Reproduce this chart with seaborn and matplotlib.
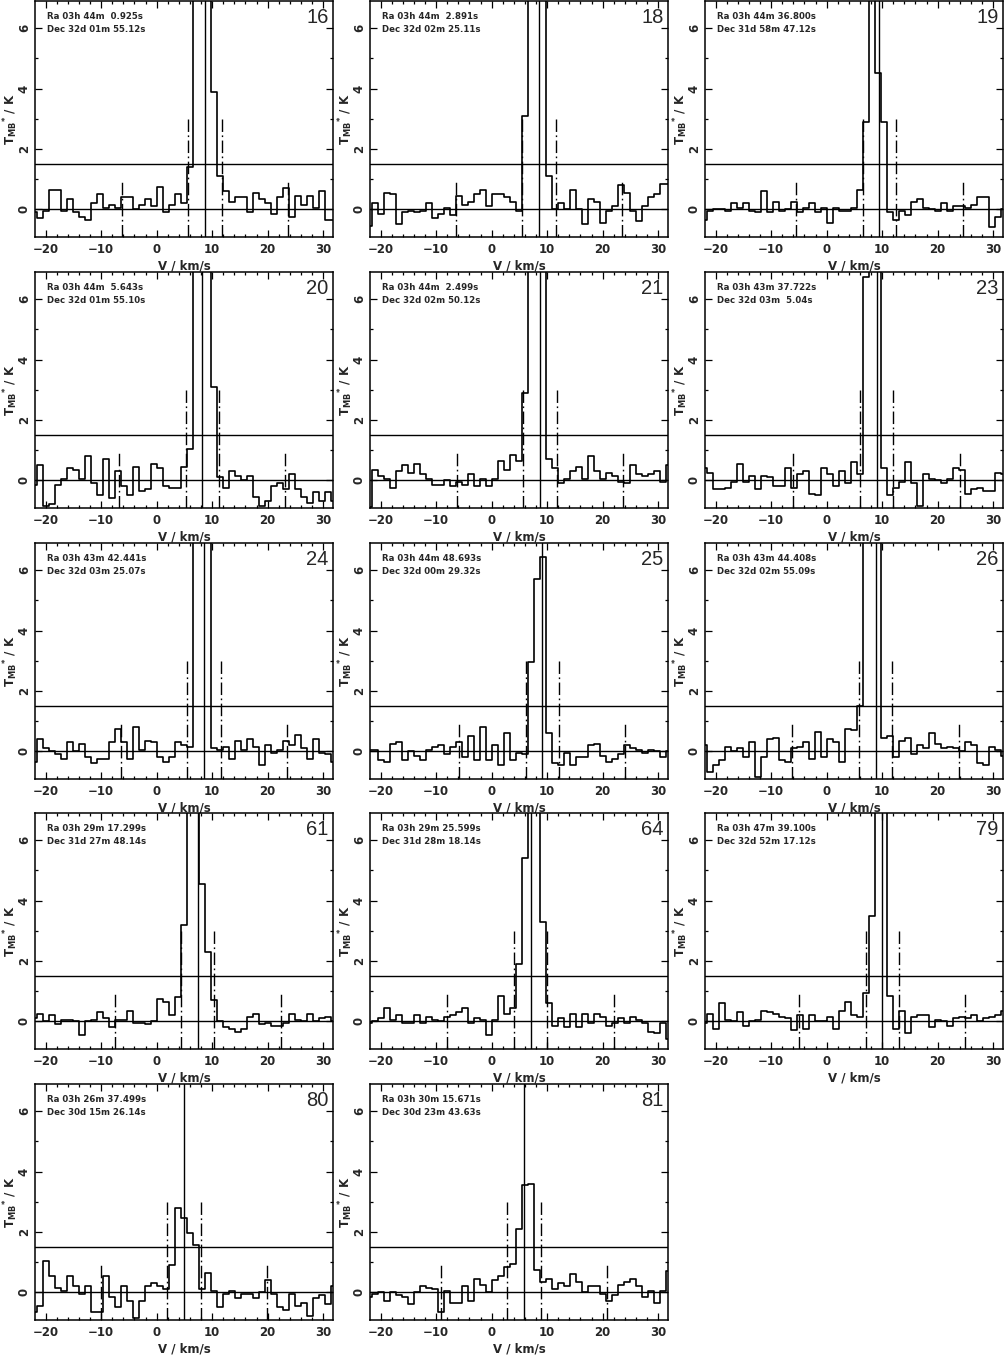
import numpy as np
import pandas as pd
import matplotlib
matplotlib.use('Agg')
import matplotlib.pyplot as plt
from matplotlib.ticker import MultipleLocator
import seaborn as sns

# ---------- data ----------
# velocity of the spectrometer channels (km/s), regular channel grid
chan_start = -22.05
chan_width = 1.081
velocity = np.round(chan_start + chan_width * np.arange(51), 3)

panel_ids = ['16', '18', '19', '20', '21', '23', '24', '25', '26', '61', '64', '79', '80', '81']

ra_text = ['Ra 03h 44m  0.925s', 'Ra 03h 44m  2.891s', 'Ra 03h 44m 36.800s',
           'Ra 03h 44m  5.643s', 'Ra 03h 44m  2.499s', 'Ra 03h 43m 37.722s',
           'Ra 03h 43m 42.441s', 'Ra 03h 44m 48.693s', 'Ra 03h 43m 44.408s',
           'Ra 03h 29m 17.299s', 'Ra 03h 29m 25.599s', 'Ra 03h 47m 39.100s',
           'Ra 03h 26m 37.499s', 'Ra 03h 30m 15.671s']
dec_text = ['Dec 32d 01m 55.12s', 'Dec 32d 02m 25.11s', 'Dec 31d 58m 47.12s',
            'Dec 32d 01m 55.10s', 'Dec 32d 02m 50.12s', 'Dec 32d 03m  5.04s',
            'Dec 32d 03m 25.07s', 'Dec 32d 00m 29.32s', 'Dec 32d 02m 55.09s',
            'Dec 31d 27m 48.14s', 'Dec 31d 28m 18.14s', 'Dec 32d 52m 17.12s',
            'Dec 30d 15m 26.14s', 'Dec 30d 23m 43.63s']

# systemic velocity of each position (km/s)
v_sys = [8.7, 8.5, 9.5, 8.2, 8.7, 9.0, 8.55, 9.1, 8.8, 7.4, 7.0, 10.0, 4.9, 5.8]

spec_16 = [-0.1, -0.3, -0.05, 0.65, 0.65, -0.05, 0.35, -0.1, -0.25, -0.35, 0.2, 0.5, 0.05, 0.15, 0.05, 0.4, 0.4,
           0.0, 0.15, 0.35, 0.1, 0.75, -0.1, 0.15, 0.5, 0.2, 1.4, 10.5, 16.0, 11.0, 3.9, 1.1, 0.6, 0.25, 0.4, 0.4,
           -0.1, 0.55, 0.35, 0.2, -0.15, 0.4, 0.7, -0.25, 0.45, 0.15, 0.45, 0.05, 0.6, -0.35, -0.35]
spec_18 = [-0.55, 0.2, -0.15, 0.55, 0.5, -0.5, -0.1, -0.05, -0.1, -0.05, 0.2, -0.3, -0.15, 0.05, -0.2, 0.45, 0.15,
           0.25, 0.5, 0.65, 0.1, 0.5, 0.5, 0.4, 0.25, -0.05, 3.1, 12.0, 17.0, 9.0, 1.1, 0.0, 0.2, 0.0, 0.65, 0.0,
           -0.5, 0.35, 0.25, -0.45, -0.05, 0.1, 0.8, 0.55, -0.05, -0.4, 0.1, 0.4, 0.5, 0.85, 0.85]
spec_19 = [-0.35, -0.05, 0.0, 0.0, -0.05, 0.2, 0.05, 0.2, -0.05, -0.1, 0.6, -0.1, 0.25, -0.05, 0.0, 0.25, -0.1,
           0.05, 0.2, -0.1, 0.05, -0.45, 0.05, -0.05, -0.05, 0.05, 0.65, 2.9, 9.5, 4.5, 2.9, -0.1, -0.35, -0.05,
           -0.2, 0.25, 0.35, 0.05, 0.0, -0.05, 0.2, -0.05, 0.1, 0.1, 0.05, 0.15, 0.4, 0.4, -0.6, -0.25, 0.0]
spec_20 = [-0.15, 0.5, -0.85, -0.8, -0.15, 0.05, 0.4, 0.35, 0.05, 0.8, -0.1, -0.5, 0.7, -0.6, 0.3, -0.2, -0.5,
           0.45, -0.35, -0.3, 0.55, 0.4, -0.2, -0.25, -0.25, 0.45, 1.05, 11.0, 16.0, 10.0, 3.1, 0.1, -0.25, 0.3,
           0.15, 0.0, 0.15, -0.55, -0.85, -0.7, -0.2, -0.1, -0.3, 0.2, -0.3, -0.55, -0.75, -0.4, -0.7, -0.4, -0.7]
spec_21 = [-0.9, 0.35, 0.15, 0.05, -0.25, 0.3, 0.5, 0.25, 0.55, 0.2, 0.05, -0.15, -0.15, 0.0, -0.2, -0.05, -0.15,
           0.2, -0.2, 0.05, -0.2, 0.05, 0.65, 0.35, 0.85, 0.65, 2.9, 12.0, 16.0, 9.0, 0.7, 0.4, -0.1, 0.05, 0.3,
           0.45, 0.05, 0.8, 0.3, 0.05, 0.25, 0.15, -0.05, -0.1, 0.5, 0.2, 0.15, 0.2, 0.3, -0.05, 0.5]
spec_23 = [0.4, 0.25, -0.3, -0.3, -0.25, -0.05, 0.55, -0.05, 0.15, -0.3, 0.15, 0.1, -0.2, -0.2, 0.4, -0.25, 0.2,
           0.3, -0.45, -0.5, 0.4, 0.2, -0.2, 0.3, -0.1, 0.6, 0.2, 6.75, 14.0, 11.0, 0.4, -0.5, -0.25, -0.05, 0.6,
           -0.1, -0.85, 0.2, 0.05, 0.0, -0.1, 0.05, 0.4, 0.35, -0.45, -0.3, -0.25, -0.35, -0.35, 0.25, 0.2]
spec_24 = [-0.35, 0.4, 0.1, 0.0, -0.1, -0.25, 0.3, 0.0, 0.25, -0.2, -0.4, -0.25, -0.25, 0.3, 0.75, 0.3, -0.25,
           0.8, 0.05, 0.35, 0.3, -0.2, -0.35, -0.2, 0.3, 0.2, 0.15, 11.0, 16.0, 10.0, 0.1, 0.05, 0.15, -0.25, 0.35,
           0.05, 0.4, 0.15, -0.45, 0.2, -0.05, 0.05, 0.35, 0.2, 0.55, 0.1, -0.25, 0.4, -0.05, -0.1, -0.35]
spec_25 = [0.05, 0.05, -0.3, -0.35, 0.25, 0.3, -0.3, 0.0, -0.15, -0.3, 0.05, 0.15, 0.2, -0.1, 0.15, 0.3, -0.2,
           0.5, -0.3, 0.8, -0.3, 0.2, -0.45, 0.6, -0.3, -0.05, -0.1, 2.95, 5.7, 6.45, 0.6, -0.4, -0.45, -0.05,
           -0.45, -0.2, -0.2, 0.2, 0.25, -0.15, -0.35, -0.25, -0.1, 0.2, 0.1, 0.05, -0.05, 0.05, 0.0, -0.2, 0.0]
spec_26 = [0.2, -0.7, -0.45, -0.3, 0.15, 0.0, 0.1, -0.2, 0.3, -0.85, -0.2, 0.4, 0.45, -0.3, -0.35, 0.1, 0.15,
           0.3, -0.25, 0.65, -0.2, 0.4, 0.3, -0.35, 0.75, 0.7, 1.5, 12.0, 17.0, 10.0, 0.45, 0.5, -0.2, 0.35, 0.45,
           -0.1, 0.2, 0.1, 0.6, 0.25, 0.1, 0.15, 0.1, 0.0, 0.3, 0.2, -0.4, -0.45, 0.15, 0.05, -0.15]
spec_61 = [0.1, 0.25, 0.0, 0.2, -0.1, 0.05, 0.05, 0.0, -0.45, 0.0, 0.05, 0.3, 0.1, -0.2, 0.05, 0.05, 0.35,
           -0.05, -0.05, -0.1, 0.0, 0.75, 0.65, 0.2, 0.8, 3.2, 9.0, 8.0, 4.55, 2.3, 0.7, 0.0, -0.2, -0.25, -0.35,
           -0.25, 0.15, 0.25, -0.1, -0.05, -0.15, -0.15, -0.05, 0.25, 0.05, 0.0, 0.25, 0.0, 0.1, 0.15, 0.0]
spec_64 = [-0.05, 0.0, 0.1, 0.45, 0.05, 0.2, -0.05, -0.05, 0.2, -0.05, 0.15, 0.05, 0.0, 0.15, 0.2, 0.3, 0.45,
           -0.05, 0.1, 0.05, -0.45, 0.05, 0.85, 0.25, 0.45, 1.9, 5.4, 13.0, 11.0, 3.3, 0.6, -0.15, 0.1, -0.2, 0.25,
           -0.2, 0.25, -0.05, 0.25, 0.15, -0.15, -0.05, 0.1, -0.05, 0.15, 0.05, -0.05, -0.35, -0.4, -0.05, -0.6]
spec_79 = [-0.05, 0.25, -0.25, 0.6, 0.05, 0.0, 0.3, -0.15, 0.0, 0.05, 0.35, 0.3, 0.25, 0.15, 0.1, -0.3, 0.2,
           -0.25, 0.2, 0.0, 0.0, 0.15, -0.25, 0.35, 0.65, 0.2, 0.15, 0.95, 3.5, 12.0, 10.0, 0.85, -0.25, 0.35,
           -0.4, 0.15, 0.2, 0.2, -0.2, 0.05, 0.0, -0.15, 0.1, 0.15, 0.1, 0.2, 0.0, 0.1, 0.15, 0.2, 0.35]
spec_80 = [-0.65, -0.45, 1.05, 0.55, 0.15, 0.05, 0.55, 0.2, -0.05, 0.2, -0.65, -0.65, 0.55, -0.15, -0.5, 0.2,
           -0.3, -0.85, -0.3, 0.2, 0.3, 0.2, 0.1, 0.9, 2.8, 2.45, 1.95, 1.55, 0.1, 0.65, 0.05, -0.5, -0.05, 0.05,
           -0.2, -0.05, -0.05, -0.2, 0.0, 0.4, -0.05, -0.5, -0.6, -0.05, -0.45, -0.35, -0.8, -0.2, -0.1, -0.4, 0.2]
spec_81 = [-0.15, -0.05, 0.0, -0.3, 0.0, -0.1, -0.15, -0.4, 0.0, 0.2, 0.15, 0.1, -0.65, 0.05, -0.35, -0.35, 0.2,
           -0.3, 0.45, 0.25, 0.0, 0.4, 0.55, 0.85, 0.95, 2.1, 3.55, 3.6, 0.75, 0.35, 0.45, 0.1, 0.3, 0.2, 0.6, 0.35,
           0.0, 0.2, 0.2, -0.05, -0.3, -0.1, 0.25, 0.35, 0.45, 0.2, -0.15, 0.05, -0.35, 0.05, 0.7]

spectra = [spec_16, spec_18, spec_19, spec_20, spec_21, spec_23, spec_24, spec_25, spec_26,
           spec_61, spec_64, spec_79, spec_80, spec_81]

# ---------- style ----------
sns.set_theme(style='ticks')
plt.rcParams['font.family'] = ['DejaVu Sans']
plt.rcParams['axes.linewidth'] = 1.1

W, H = 1005, 1357
col_left = [35, 370, 705]
row_top = [1, 272, 543, 813, 1084]
ax_w, ax_h = 298, 236
ylo, yhi = -0.92, 6.9
dashdot = (0, (9, 2.5, 1.2, 2.5))

fig = plt.figure(figsize=(W / 100, H / 100), dpi=100)

for i, pid in enumerate(panel_ids):
    r, c = divmod(i, 3)
    ax = fig.add_axes([col_left[c] / W, 1 - (row_top[r] + ax_h) / H, ax_w / W, ax_h / H])
    df = pd.DataFrame({'v': velocity, 't': spectra[i]})
    sns.lineplot(data=df, x='v', y='t', ax=ax, color='black', lw=1.2,
                 drawstyle='steps-mid', estimator=None, sort=False)

    v0 = v_sys[i]
    ax.axhline(0, color='black', lw=1.0)
    ax.axhline(1.5, color='black', lw=1.0)
    ax.axvline(v0, color='black', lw=1.0)
    for dv in (-3, 3):
        ax.plot([v0 + dv, v0 + dv], [ylo, 3.0], color='black', lw=1.0, ls=dashdot)
    for dv in (-15, 15):
        ax.plot([v0 + dv, v0 + dv], [ylo, 1.0], color='black', lw=1.0, ls=dashdot)

    ax.set_xlim(-21.93, 31.77)
    ax.set_ylim(ylo, yhi)
    ax.xaxis.set_major_locator(MultipleLocator(10))
    ax.xaxis.set_minor_locator(MultipleLocator(2))
    ax.yaxis.set_major_locator(MultipleLocator(2))
    ax.yaxis.set_minor_locator(MultipleLocator(1))
    ax.tick_params(which='both', direction='in', top=True, right=True, width=0.9,
                   labelsize=8.5, color='black')
    ax.tick_params(which='major', length=5)
    ax.tick_params(which='minor', length=2.5)
    ax.tick_params(axis='x', pad=4)
    ax.tick_params(axis='y', pad=3)
    for lab in ax.get_xticklabels() + ax.get_yticklabels():
        lab.set_fontweight('bold')
    for lab in ax.get_yticklabels():
        lab.set_rotation(90)
        lab.set_va('center')

    ax.set_xlabel('V / km/s', fontsize=8.5, fontweight='bold')
    ax.xaxis.set_label_coords(0.5, -0.095)
    ax.set_ylabel(r'T$_{\mathbf{MB}}$$^{\mathbf{*}}$ / K', fontsize=8.5, fontweight='bold')
    ax.yaxis.label.set_va('center')
    ax.yaxis.set_label_coords(-0.082, 0.5)
    for sp in ax.spines.values():
        sp.set_color('black')

    ax.text(0.04, 0.935, ra_text[i], transform=ax.transAxes, fontsize=6.2,
            fontweight='bold', ha='left', va='center')
    ax.text(0.04, 0.878, dec_text[i], transform=ax.transAxes, fontsize=6.2,
            fontweight='bold', ha='left', va='center')
    ax.text(0.985, 0.93, pid, transform=ax.transAxes, fontsize=14.5,
            family=['Liberation Sans', 'DejaVu Sans'], ha='right', va='center')

fig.savefig('out.png', dpi=100, facecolor='white')
